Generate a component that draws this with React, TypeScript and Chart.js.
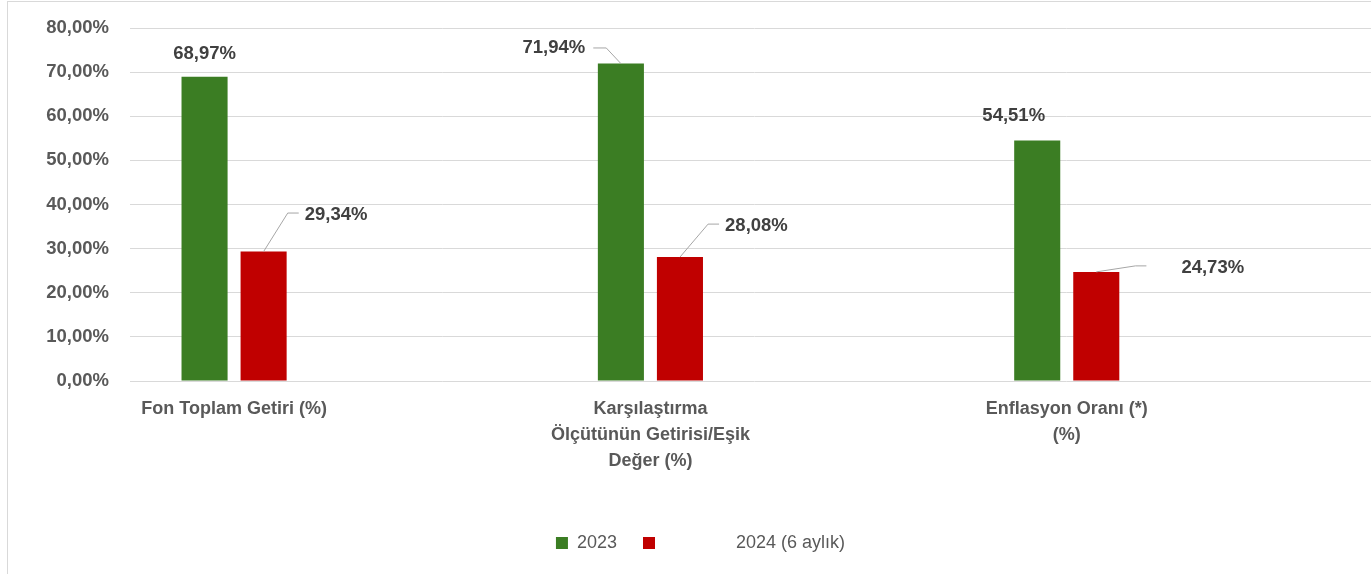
import React, { useEffect, useRef } from "react";
import { Chart, registerables } from "chart.js";

Chart.register(...registerables);

// ---- data ----
const categoryLines: string[][] = [
  ["Fon Toplam Getiri (%)"],
  ["Karşılaştırma", "Ölçütünün Getirisi/Eşik", "Değer (%)"],
  ["Enflasyon Oranı (*)", "(%)"],
];
const values2023: number[] = [68.97, 71.94, 54.51];
const values2024: number[] = [29.34, 28.08, 24.73];
const seriesNames: string[] = ["2023", "2024 (6 aylık)"];
const yMin = 0;
const yMax = 80;
const yStep = 10;

// ---- styles / label placement (px offsets from default above-bar position) ----
const GREEN = "#3B7D23";
const RED = "#C00000";
const FONT = '"Liberation Sans", Arial, sans-serif';
const labelPlacement: number[][][] = [
  [[0, 0, 0], [-67, 7.4, 8], [-23.5, -1.5, 0]],
  [[72.5, -13.5, 6], [76.5, -8, 6], [116.5, 19, 35]],
];

const fmt = (v: number) => v.toFixed(2).replace(".", ",") + "%";

const valueLabelPlugin = {
  id: "valueLabels",
  afterDatasetsDraw(chart: any) {
    const ctx = chart.ctx;
    ctx.save();
    ctx.font = `bold 18.5px ${FONT}`;
    ctx.textAlign = "center";
    ctx.textBaseline = "middle";
    chart.data.datasets.forEach((ds: any, di: number) => {
      const meta = chart.getDatasetMeta(di);
      meta.data.forEach((el: any, i: number) => {
        const v = ds.data[i].y;
        const [dx, dy, gap] = labelPlacement[di][i];
        const cx = el.x + dx;
        const cy = el.y - 23 + dy;
        const text = fmt(v);
        const w = ctx.measureText(text).width;
        if (Math.abs(dx) > 40) {
          ctx.strokeStyle = "#a6a6a6";
          ctx.lineWidth = 1;
          ctx.beginPath();
          ctx.moveTo(el.x, el.y);
          if (dx > 0) {
            const ex = cx - w / 2 - gap;
            const ey = cy - 2;
            ctx.lineTo(ex - 11, ey);
            ctx.lineTo(ex, ey);
          } else {
            const ex = cx + w / 2 + gap;
            const ey = cy;
            ctx.lineTo(ex + 13, ey);
            ctx.lineTo(ex, ey);
          }
          ctx.stroke();
        }
        ctx.fillStyle = "#404040";
        ctx.fillText(text, cx, cy);
      });
    });
    ctx.restore();
  },
};

export default function App() {
  const ref = useRef<HTMLCanvasElement | null>(null);

  useEffect(() => {
    if (!ref.current) return;
    const chart = new Chart(ref.current, {
      type: "bar",
      data: {
        datasets: [
          {
            label: seriesNames[0],
            data: values2023.map((y, i) => ({ x: i, y })),
            backgroundColor: GREEN,
            categoryPercentage: 0.2837,
            barPercentage: 0.78,
          },
          {
            label: seriesNames[1],
            data: values2024.map((y, i) => ({ x: i, y })),
            backgroundColor: RED,
            categoryPercentage: 0.2837,
            barPercentage: 0.78,
          },
        ],
      },
      options: {
        responsive: false,
        maintainAspectRatio: false,
        animation: false,
        layout: { padding: { left: 14, right: 20, top: 26, bottom: 40 } },
        plugins: {
          tooltip: { enabled: false },
          legend: {
            position: "bottom",
            onClick: () => {},
            labels: {
              boxWidth: 12,
              boxHeight: 12,
              padding: 26,
              color: "#595959",
              font: { family: FONT, size: 18 },
              generateLabels: () => [
                {
                  text: seriesNames[0],
                  fillStyle: GREEN,
                  strokeStyle: GREEN,
                  lineWidth: 0,
                  hidden: false,
                  datasetIndex: 0,
                  fontColor: "#595959",
                },
                {
                  text: "     ",
                  fillStyle: RED,
                  strokeStyle: RED,
                  lineWidth: 0,
                  hidden: false,
                  datasetIndex: 1,
                  fontColor: "#595959",
                },
                {
                  text: seriesNames[1],
                  fillStyle: "rgba(0,0,0,0)",
                  strokeStyle: "rgba(0,0,0,0)",
                  lineWidth: 0,
                  hidden: false,
                  datasetIndex: 1,
                  fontColor: "#595959",
                },
              ],
            },
          },
        },
        scales: {
          x: {
            type: "linear",
            offset: false,
            min: -0.25,
            max: 2.75,
            afterBuildTicks: (s: any) => {
              s.ticks = categoryLines.map((_, i) => ({ value: i }));
            },
            afterFit: (s: any) => {
              s.height = 127;
            },
            grid: { display: false, offset: false },
            border: { display: false },
            ticks: {
              autoSkip: false,
              maxRotation: 0,
              minRotation: 0,
              padding: 7,
              color: "#595959",
              font: { family: FONT, size: 18, weight: "bold", lineHeight: 1.45 },
              callback: (v: any) => categoryLines[v] ?? "",
            },
          },
          y: {
            min: yMin,
            max: yMax,
            afterFit: (s: any) => {
              s.width = 108;
              s.paddingTop = 0;
              s.paddingBottom = 0;
            },
            grid: { color: "#d9d9d9", lineWidth: 1, drawTicks: false },
            border: { display: false },
            ticks: {
              stepSize: yStep,
              padding: 21,
              color: "#595959",
              font: { family: FONT, size: 18.5, weight: "bold" },
              callback: (v: any) => fmt(Number(v)),
            },
          },
        },
      },
      plugins: [valueLabelPlugin],
    } as any);
    return () => chart.destroy();
  }, []);

  return (
    <div
      style={{
        position: "fixed",
        left: 0,
        top: 0,
        width: 1371,
        height: 574,
        overflow: "hidden",
        background: "#fff",
      }}
    >
      <div
        style={{
          position: "absolute",
          left: 7,
          top: 1,
          width: 1391,
          height: 600,
          border: "1px solid #d9d9d9",
        }}
      >
        <canvas
          ref={ref}
          width={1391}
          height={600}
          style={{ display: "block", width: 1391, height: 600 }}
        />
      </div>
    </div>
  );
}
